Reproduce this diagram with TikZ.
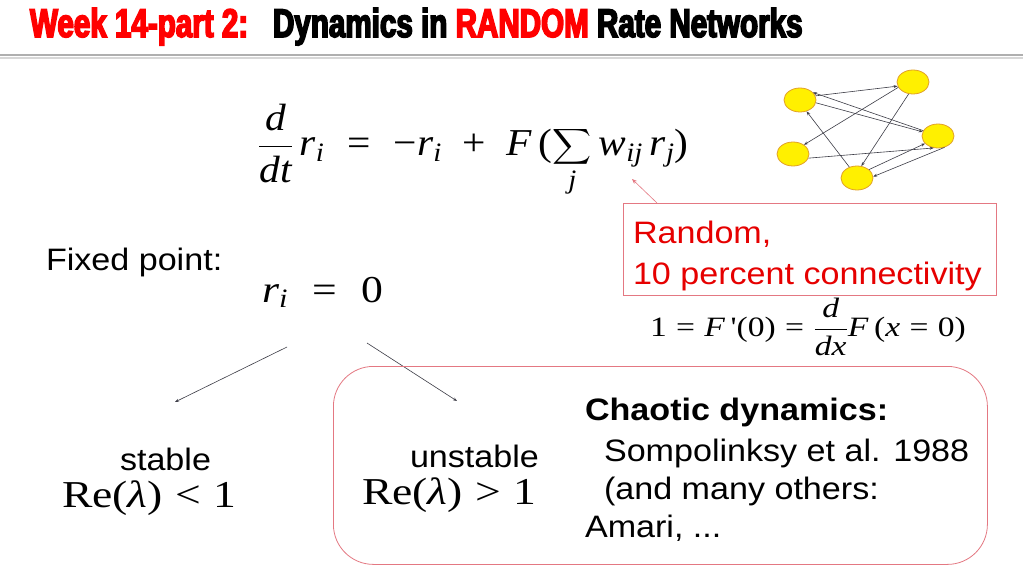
\RequirePackage{fix-cm}
\documentclass[tikz,border=0pt]{standalone}
\usepackage{exscale}
\usepackage{fontspec}
\usepackage{graphicx}
\usetikzlibrary{shapes.geometric,arrows.meta,calc}
\newfontfamily\bodyfont[FakeStretch=1.1]{Liberation Sans}
\newfontfamily\titlefont[FakeStretch=0.74,BoldFeatures={FakeBold=4}]{Liberation Sans}
\newfontfamily\tms[NFSSFamily=tmsfam]{Liberation Serif}
\DeclareSymbolFont{tmsletters}{TU}{tmsfam}{m}{it}
\DeclareSymbolFont{tmsupright}{TU}{tmsfam}{m}{n}
\AtBeginDocument{%
  \Umathcode`d="7 \symtmsletters `d
  \Umathcode`t="7 \symtmsletters `t
  \Umathcode`r="7 \symtmsletters `r
  \Umathcode`i="7 \symtmsletters `i
  \Umathcode`j="7 \symtmsletters `j
  \Umathcode`w="7 \symtmsletters `w
  \Umathcode`x="7 \symtmsletters `x
  \Umathcode`F="7 \symtmsletters `F
  \Umathcode`0="0 \symtmsupright `0
  \Umathcode`1="0 \symtmsupright `1
  \Umathcode`(="4 \symtmsupright `(
  \Umathcode`)="5 \symtmsupright `)
  \Umathcode`=="3 \symtmsupright `=
  \Umathcode`+="2 \symtmsupright `+
  \Umathcode`<="3 \symtmsupright `<
  \Umathcode`>="3 \symtmsupright `>
  \Umathchardef\tmsminus="2 \symtmsupright "2212
  \Umathchardef\tmslambda="7 \symtmsletters "03BB
}
\definecolor{titlered}{RGB}{255,0,0}
\definecolor{textred}{RGB}{230,0,0}
\definecolor{boxpink}{RGB}{228,120,130}
\definecolor{nodeyellow}{RGB}{255,240,0}
\definecolor{nodeorange}{RGB}{225,160,40}
\definecolor{edgegray}{RGB}{60,60,70}
\definecolor{rulegray}{RGB}{175,175,175}
\begin{document}
\begin{tikzpicture}[x=1pt,y=-1pt,
  txt/.style={inner sep=0pt,outer sep=0pt,anchor=base west,font=\bodyfont\fontsize{31}{37}\selectfont},
  ttl/.style={inner sep=0pt,outer sep=0pt,anchor=base west,font=\titlefont\bfseries\fontsize{40}{46}\selectfont},
  mth/.style={inner sep=0pt,outer sep=0pt,anchor=base west,font=\fontsize{38}{44}\selectfont},
  nd/.style={ellipse,draw=nodeorange,fill=nodeyellow,line width=0.8pt,minimum width=32pt,minimum height=24pt,inner sep=0pt},
  netedge/.style={draw=edgegray,line width=0.6pt,-{Stealth[length=4pt,width=3pt]}},
  branch/.style={draw=edgegray,line width=0.6pt,-{Stealth[length=4pt,width=3pt]}},
  callout/.style={draw=boxpink,line width=0.6pt,-{Stealth[length=5pt,width=4pt]}},
  pinkbox/.style={draw=boxpink,line width=0.8pt,inner sep=0pt,anchor=north west}]
\useasboundingbox[fill=white] (0,0) rectangle (1023,575);

% title
\node[ttl,text=titlered] (t1) at (30,37) {Week 14-part 2:};
\node[ttl] (t2) at (273,37) {Dynamics in \textcolor{titlered}{RANDOM} Rate Networks};
\draw[rulegray!50,line width=2pt] (0,58) -- (1023,58);
\draw[rulegray,line width=2.5pt] (0,55) -- (1023,55);

% main equation
\node[mth] (eq) at (258,156) {\scalebox{1.09}[1]{$\displaystyle \frac{d}{dt}\,r_i \;=\; \tmsminus r_i \;+\; F\,(\sum_j w_{ij}\, r_j)$}};

% network
\node[nd] (A) at (800,100) {};
\node[nd] (B) at (913,82) {};
\node[nd] (C) at (938,136) {};
\node[nd] (D) at (793,154) {};
\node[nd] (E) at (857,178) {};
\draw[netedge] (A.15) -- (B.195);
\draw[netedge] (C.160) -- (A.30);
\draw[netedge] (A.-10) -- (C.165);
\draw[netedge] (B.200) -- (D.40);
\draw[netedge] (B.-110) -- (E.70);
\draw[netedge] (E.125) -- (A.-60);
\draw[netedge] (D.-15) -- (C.-110);
\draw[netedge] (E.35) -- (C.-150);
\draw[netedge] (C.-60) -- (E.5);

% random box
\node[pinkbox,minimum width=373pt,minimum height=92pt] (rbox) at (623,203) {};
\node[txt,text=textred] (rand1) at (633,243) {Random,};
\node[txt,text=textred] (rand2) at (633,284) {10 percent connectivity};
\coordinate (wij) at (632,179);
\draw[callout] ($(rbox.north west)+(34,0)$) -- (wij);

% fixed point
\node[txt] (fp) at (46,270) {Fixed point:};
\node[mth] (r0) at (262,302) {\scalebox{1.15}[1]{$r_i \;=\; 0$}};
\node[mth,font=\fontsize{28}{34}\selectfont] (fprime) at (650,336) {\scalebox{1.2}[1]{$1 = F\,\mbox{\tms '}(0) = \displaystyle\frac{d}{dx}F\,(x=0)$}};

% branches
\coordinate (bl0) at (287,347);
\coordinate (bl1) at (175,402);
\coordinate (br0) at (367,343);
\coordinate (br1) at (457,401);
\draw[branch] (bl0) -- (bl1);
\draw[branch] (br0) -- (br1);

% chaos box
\node[pinkbox,rounded corners=40pt,minimum width=654pt,minimum height=198pt] (cbox) at (333,366) {};

\node[txt] (st) at (120,470) {stable};
\node[mth] (st2) at (62,507) {\scalebox{1.2}[1]{$\mbox{\tms Re}(\tmslambda) < 1$}};
\node[txt] (un) at (410,467) {unstable};
\node[mth] (un2) at (362,504) {\scalebox{1.2}[1]{$\mbox{\tms Re}(\tmslambda) > 1$}};

\node[txt,font=\bodyfont\bfseries\fontsize{31}{37}\selectfont] (ch) at (585,420) {Chaotic dynamics:};
\node[txt] (c2) at (604,461) {Sompolinksy et al. 1988};
\node[txt] (c3) at (604,499) {(and many others:};
\node[txt] (c4) at (585,537) {Amari, ...};
\end{tikzpicture}
\end{document}
